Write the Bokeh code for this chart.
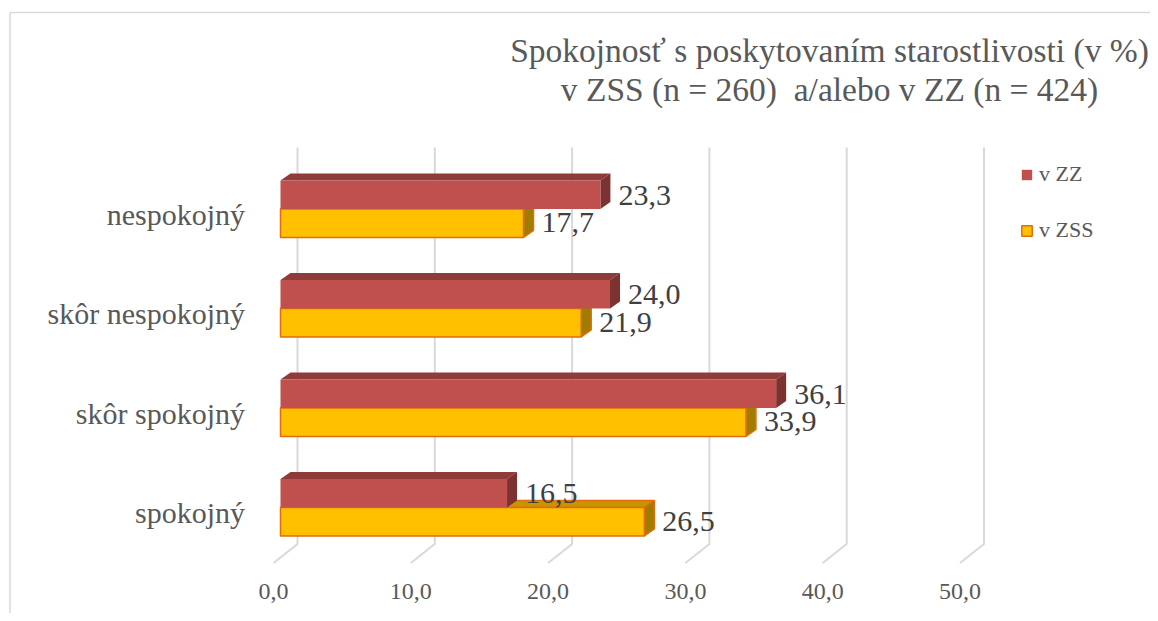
from bokeh.plotting import figure
from bokeh.models import ColumnDataSource, Range1d, Legend, LegendItem
from bokeh.core.properties import value
from bokeh.embed import file_html
from bokeh.resources import INLINE

# ---------------- data ----------------
categories = ["nespokojný", "skôr nespokojný", "skôr spokojný", "spokojný"]  # top to bottom
v_zz = [23.3, 24.0, 36.1, 16.5]
v_zss = [17.7, 21.9, 33.9, 26.5]
series_names = ["v ZZ", "v ZSS"]
tick_values = [0, 10, 20, 30, 40, 50]
tick_labels = ["0,0", "10,0", "20,0", "30,0", "40,0", "50,0"]
title_lines = ["Spokojnosť s poskytovaním starostlivosti (v %)",
               "v ZSS (n = 260)\u00a0 a/alebo v ZZ (n = 424)"]

def fmt(v):
    return f"{v:.1f}".replace(".", ",")

# ---------------- layout constants (pixels) ----------------
W, H_FIG = 1150, 613
X0, SX = 273.0, 13.73   # px of value 0 at front plane, px per unit
Y0, SY = 516.5, 99.5    # px of bottom category, px per category

def dx(px): return px / SX
def dy(px): return px / SY
def px2x(p): return (p - X0) / SX
def py2y(p): return (Y0 - p) / SY

FONT_NAME = "Liberation Serif"
FONT = value(FONT_NAME)
BASE_K = 0.4  # baseline correction (fraction of font size)

def base(py, fs):
    # data y for a text baseline wanted at pixel row py
    return py2y(py - BASE_K * fs)

p = figure(width=W, height=H_FIG, output_backend="svg", toolbar_location=None,
           x_range=Range1d(px2x(0), px2x(W)),
           y_range=Range1d(py2y(H_FIG), py2y(0)),
           x_axis_location=None, y_axis_location=None, min_border=0)
p.outline_line_color = None
p.background_fill_color = "white"
p.border_fill_color = "white"
p.xgrid.visible = False
p.ygrid.visible = False

# chart border (cut at right/bottom like the reference)
p.segment(x0=[px2x(9.5), px2x(9.5)], y0=[py2y(12), py2y(12)],
          x1=[px2x(9.5), px2x(1160)], y1=[py2y(625), py2y(12)],
          line_color="#D9D9D9", line_width=1.5)

# ---------------- gridlines (3D back wall + floor) ----------------
WALL_DX, WALL_DY = dx(24), dy(19)
floor_front = py2y(562.5)
wall_top = py2y(147)
gx, gy = [], []
for t in tick_values:
    gx.append([t, t + WALL_DX, t + WALL_DX])
    gy.append([floor_front, floor_front + WALL_DY, wall_top])
p.multi_line(xs=gx, ys=gy, line_color="#D9D9D9", line_width=2)

# ---------------- bars ----------------
BX = dx(7)            # bar front offset from the front plane
BH = dy(28.5)         # bar thickness
DDX, DDY = dx(10), dy(7)  # bar depth
n = len(categories)
idx = [n - 1 - k for k in range(n)]
boundary = [i + dy(9.5) for i in idx]

def faces(vals, bottoms, tops):
    top_x, top_y, side_x, side_y = [], [], [], []
    for v, b, t in zip(vals, bottoms, tops):
        l, r = BX, v + BX
        top_x.append([l, r, r + DDX, l + DDX])
        top_y.append([t, t, t + DDY, t + DDY])
        side_x.append([r, r, r + DDX, r + DDX])
        side_y.append([b, t, t + DDY, b + DDY])
    return top_x, top_y, side_x, side_y

# yellow (v ZSS) first, lower bar
y_bot = [b - BH for b in boundary]
y_top = boundary
tx, ty, sx_, sy_ = faces(v_zss, y_bot, y_top)
p.patches(xs=tx, ys=ty, fill_color="#C69600", line_color="#E46C0A", line_width=1.5)
p.patches(xs=sx_, ys=sy_, fill_color="#A07C00", line_color="#E46C0A", line_width=1.5)
src_y = ColumnDataSource(dict(left=[BX] * n, right=[v + BX for v in v_zss], bottom=y_bot, top=y_top))
r_yel = p.quad(left="left", right="right", bottom="bottom", top="top", source=src_y,
               fill_color="#FFC000", line_color="#E46C0A", line_width=1.5)

# red (v ZZ), upper bar
r_bot = boundary
r_top = [b + BH for b in boundary]
tx, ty, sx_, sy_ = faces(v_zz, r_bot, r_top)
p.patches(xs=tx, ys=ty, fill_color="#8F3B39", line_color=None)
p.patches(xs=sx_, ys=sy_, fill_color="#7C3230", line_color=None)
src_r = ColumnDataSource(dict(left=[BX] * n, right=[v + BX for v in v_zz], bottom=r_bot, top=r_top))
r_red = p.quad(left="left", right="right", bottom="bottom", top="top", source=src_r,
               fill_color="#C0504D", line_color=None)

# ---------------- data labels ----------------
LBL_DX = dx(18)
FS_D = 30
p.text(x=[v + BX + LBL_DX for v in v_zz], y=[b + dy(2 + BASE_K * FS_D) for b in r_bot],
       text=[fmt(v) for v in v_zz], text_font=FONT, text_font_size=f"{FS_D}px",
       text_color="#404040", text_align="left", text_baseline="alphabetic")
p.text(x=[v + BX + LBL_DX for v in v_zss], y=[b + dy(3 + BASE_K * FS_D) for b in y_bot],
       text=[fmt(v) for v in v_zss], text_font=FONT, text_font_size=f"{FS_D}px",
       text_color="#404040", text_align="left", text_baseline="alphabetic")

# ---------------- axis labels ----------------
FS_T = 24
p.text(x=tick_values, y=[base(600.5, FS_T)] * len(tick_values), text=tick_labels,
       text_font=FONT, text_font_size=f"{FS_T}px", text_color="#595959",
       text_align="center", text_baseline="alphabetic")
FS_C = 30
p.text(x=[px2x(244.5)] * n, y=[i - dy(7.5 - BASE_K * FS_C) for i in idx], text=categories,
       text_font=FONT, text_font_size=f"{FS_C}px", text_color="#595959",
       text_align="right", text_baseline="alphabetic")

# ---------------- title ----------------
FS_TI = 33.5
p.text(x=[px2x(829)] * 2, y=[base(63, FS_TI), base(102, FS_TI)], text=title_lines,
       text_font=FONT, text_font_size=f"{FS_TI}px", text_color="#595959",
       text_align="center", text_baseline="alphabetic")

# ---------------- legend ----------------
legend = Legend(items=[LegendItem(label=series_names[0], renderers=[r_red]),
                       LegendItem(label=series_names[1], renderers=[r_yel])],
                location=(1020, 370), orientation="vertical",
                glyph_width=13, glyph_height=13, label_height=20, spacing=30,
                label_standoff=6, padding=0, margin=0,
                border_line_color=None, background_fill_alpha=0,
                label_text_font=FONT_NAME, label_text_font_size="22px",
                label_text_color="#595959")
p.add_layout(legend)

open("out.html", "w").write(file_html(p, INLINE))
